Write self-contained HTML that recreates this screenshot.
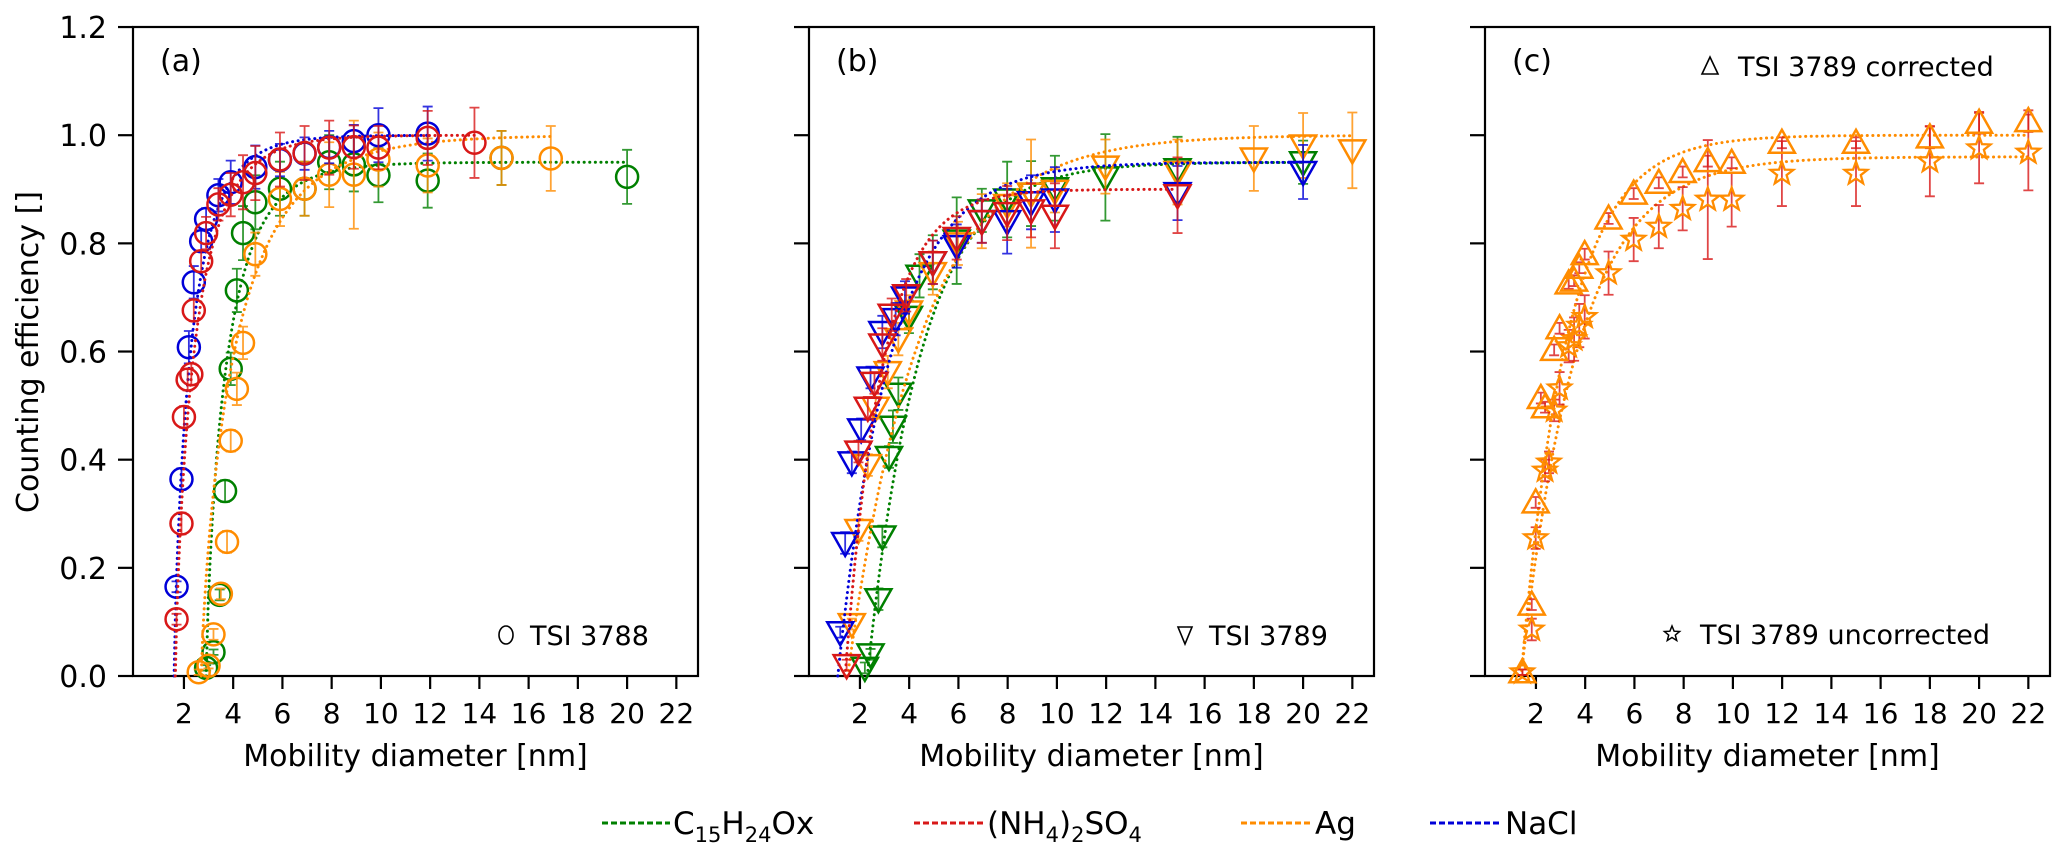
<!DOCTYPE html>
<html><head><meta charset="utf-8">
<style>
html,body{margin:0;padding:0;background:#fff;}
svg{display:block;font-family:"DejaVu Sans","Liberation Sans",sans-serif;}
</style></head>
<body>
<svg id="chart" xmlns="http://www.w3.org/2000/svg" width="2067" height="855" viewBox="0 0 2067 855">
<rect width="2067" height="855" fill="#fff"/>
<g id="axes"></g>
<g id="data"></g>
<g id="annot"></g>
</svg>
<script>
// ---------- data ----------
const xTicks=[2,4,6,8,10,12,14,16,18,20,22];
const yTicks=[0,0.2,0.4,0.6,0.8,1.0,1.2];
const yTickLabels=["0.0","0.2","0.4","0.6","0.8","1.0","1.2"];
const panelLabels=["(a)","(b)","(c)"];

// panel a (TSI 3788)
const aNaClX=[1.7,1.9,2.2,2.4,2.7,2.9,3.4,3.9,4.9,5.9,6.9,7.9,8.9,9.9,11.9];
const aNaClY=[0.165,0.364,0.608,0.728,0.804,0.845,0.889,0.913,0.941,0.954,0.966,0.978,0.989,1.0,1.003];
const aNaClE=[0.01,0.02,0.03,0.03,0.02,0.02,0.03,0.04,0.04,0.03,0.03,0.03,0.03,0.05,0.05];
const aAmsX=[1.7,1.9,2.0,2.15,2.3,2.4,2.7,2.9,3.4,3.9,4.4,4.9,5.9,6.9,7.9,8.9,9.9,11.9,13.8];
const aAmsY=[0.105,0.282,0.479,0.548,0.558,0.676,0.767,0.819,0.872,0.89,0.913,0.93,0.955,0.967,0.977,0.978,0.977,0.995,0.986];
const aAmsE=[0.01,0.02,0.02,0.02,0.02,0.02,0.02,0.03,0.03,0.04,0.05,0.05,0.05,0.05,0.05,0.04,0.04,0.05,0.065];
const aSoaX=[2.9,3.2,3.45,3.67,3.9,4.15,4.4,4.9,5.9,6.9,7.9,8.9,9.9,11.9,14.9,20];
const aSoaY=[0.015,0.044,0.15,0.342,0.568,0.713,0.819,0.876,0.901,0.901,0.95,0.946,0.926,0.916,0.958,0.923];
const aSoaE=[0.005,0.005,0.01,0.02,0.03,0.04,0.05,0.05,0.05,0.05,0.05,0.05,0.05,0.05,0.05,0.05];
const aAgX=[2.6,3.0,3.2,3.5,3.75,3.9,4.15,4.4,4.9,5.9,6.9,7.9,8.9,9.9,11.9,14.9,16.9];
const aAgY=[0.007,0.019,0.077,0.152,0.248,0.435,0.531,0.616,0.78,0.882,0.901,0.927,0.927,0.955,0.944,0.958,0.957];
const aAgE=[0.005,0.005,0.01,0.01,0.02,0.02,0.03,0.03,0.04,0.05,0.05,0.06,0.1,0.05,0.05,0.05,0.06];

// panel b (TSI 3789)
const bNaClX=[1.2,1.4,1.67,2.05,2.43,2.91,3.45,3.83,4.96,5.93,6.95,7.98,8.95,9.92,14.9,20];
const bNaClY=[0.081,0.246,0.395,0.456,0.552,0.636,0.66,0.70,0.765,0.795,0.841,0.841,0.876,0.881,0.893,0.932];
const bNaClE=[0.01,0.02,0.02,0.02,0.02,0.03,0.03,0.03,0.04,0.04,0.04,0.06,0.05,0.06,0.05,0.05];
const bAmsX=[1.46,1.94,2.32,2.59,2.91,3.29,3.88,4.96,5.93,6.95,7.98,8.95,9.92,14.9];
const bAmsY=[0.02,0.415,0.496,0.542,0.613,0.668,0.704,0.765,0.81,0.841,0.856,0.861,0.851,0.889];
const bAmsE=[0.01,0.02,0.02,0.02,0.03,0.03,0.03,0.04,0.04,0.04,0.05,0.05,0.06,0.07];
const bSoaX=[2.2,2.43,2.75,2.91,3.18,3.34,3.56,3.99,4.42,4.96,5.93,6.95,7.98,8.95,9.92,11.97,14.9,20];
const bSoaY=[0.015,0.04,0.142,0.258,0.405,0.461,0.522,0.664,0.74,0.765,0.805,0.861,0.881,0.892,0.902,0.922,0.937,0.95];
const bSoaE=[0.01,0.01,0.02,0.02,0.02,0.03,0.03,0.03,0.04,0.05,0.08,0.04,0.07,0.06,0.06,0.08,0.06,0.04];
const bAgX=[1.67,1.94,2.32,2.64,3.13,3.56,3.99,4.96,5.98,6.95,7.98,8.95,9.92,11.97,14.9,18,20,22];
const bAgY=[0.096,0.27,0.39,0.496,0.562,0.623,0.674,0.745,0.8,0.841,0.871,0.892,0.897,0.942,0.932,0.957,0.981,0.972];
const bAgE=[0.01,0.02,0.02,0.02,0.03,0.03,0.03,0.04,0.04,0.05,0.04,0.1,0.04,0.05,0.06,0.06,0.06,0.07];

// panel c (TSI 3789 Ag corrected / uncorrected)
const cCorX=[1.45,1.83,1.99,2.2,2.37,2.74,2.96,3.33,3.55,3.76,3.98,4.95,5.97,6.99,7.96,8.98,9.95,11.99,15,18,20,22];
const cCorY=[0.007,0.132,0.321,0.514,0.497,0.603,0.643,0.726,0.731,0.755,0.78,0.846,0.892,0.912,0.932,0.952,0.949,0.986,0.986,0.996,1.023,1.026];
const cCorE=[0.005,0.01,0.01,0.01,0.01,0.01,0.01,0.01,0.01,0.01,0.01,0.01,0.01,0.01,0.01,0.01,0.01,0.01,0.01,0.02,0.02,0.02];
const cUncX=[1.45,1.83,1.99,2.37,2.53,2.74,2.96,3.33,3.55,3.76,3.98,4.95,5.97,6.99,7.96,8.98,9.95,11.99,15,18,20,22];
const cUncY=[0.007,0.086,0.255,0.38,0.395,0.491,0.532,0.61,0.623,0.648,0.664,0.745,0.807,0.831,0.864,0.881,0.881,0.929,0.929,0.952,0.976,0.968];
const cUncE=[0.005,0.02,0.02,0.02,0.02,0.02,0.03,0.03,0.04,0.04,0.04,0.04,0.04,0.04,0.04,0.11,0.05,0.06,0.06,0.065,0.065,0.07];

// fit parameters: plateau, cutoff diameter, scale, shape exponent
const fitPlateau=[1.0,1.0,0.95,1.0, 0.95,0.9,0.95,1.0, 1.0,0.96];
const fitD0=[1.6,1.65,2.9,2.7, 1.1,1.4,2.3,1.5, 1.4,1.4];
const fitScale=[0.75,0.85,0.9,1.5, 2.2,1.5,2.2,3.0, 1.9,2.3];
const fitK=[0.8,0.8,0.8,0.8, 1,1,1,1, 1,1];

{
const panelLeft=[133,809,1485];
const panelW=565, topY=27, bottomY=676;
const NS="http://www.w3.org/2000/svg";
const COL={green:"#008000",red:"#d81818",orange:"#ff8c00",blue:"#0000d8"};
function xs(p,d){return panelLeft[p]+1.7+d*24.62;}
function ys(v){return bottomY-v*540.8;}
function mk(tag,attrs,parent){const e=document.createElementNS(NS,tag);for(const k in attrs)e.setAttribute(k,attrs[k]);parent.appendChild(e);return e;}
const axes=document.getElementById('axes'),dataG=document.getElementById('data'),ann=document.getElementById('annot');

for(let p=0;p<3;p++){
  const L=panelLeft[p];
  const fr=mk('rect',{x:L,y:topY,width:panelW,height:bottomY-topY,fill:'none',stroke:'#000','stroke-width':2.2},axes);
  
  
  for(let i=0;i<yTicks.length;i++){
    const y=ys(yTicks[i]);
    const t=mk('line',{x1:L-15,x2:L,y1:y,y2:y,stroke:'#000','stroke-width':2.2},axes);
    
    
    if(p===0){
      const tl=mk('text',{x:107,y:y+11,'text-anchor':'end','font-size':30},axes);
      tl.textContent=yTickLabels[i];
      
      
    }
  }
  for(let i=0;i<xTicks.length;i++){
    const x=xs(p,xTicks[i]);
    const t=mk('line',{x1:x,x2:x,y1:bottomY,y2:bottomY+13,stroke:'#000','stroke-width':2.2},axes);
    
    
    const tl=mk('text',{x:x,y:723,'text-anchor':'middle','font-size':28},axes);
    tl.textContent=xTicks[i];
    
    
  }
  const xl=mk('text',{x:L+panelW/2,y:766,'text-anchor':'middle','font-size':30},axes);
  xl.textContent='Mobility diameter [nm]';
  
  
  const pl=mk('text',{x:L+27,y:71,'font-size':30},ann);
  pl.textContent=panelLabels[p];
  
  
}
const yl=mk('text',{x:0,y:0,'text-anchor':'middle','font-size':30,transform:'translate(38,352) rotate(-90)'},axes);
yl.textContent='Counting efficiency []';



function marker(kind,x,y,color,parent){
  let e;
  if(kind==='circle'){e=mk('circle',{cx:x,cy:y,r:11,fill:'none',stroke:color,'stroke-width':2.5},parent);}
  else if(kind==='tdown'){e=mk('polygon',{points:`${x-13},${y-10} ${x+13},${y-10} ${x},${y+13}`,fill:'none',stroke:color,'stroke-width':2.5},parent);}
  else if(kind==='tup'){e=mk('polygon',{points:`${x-13},${y+10} ${x+13},${y+10} ${x},${y-13}`,fill:'none',stroke:color,'stroke-width':2.5},parent);}
  else {let pts=[];for(let k=0;k<10;k++){const r=k%2?5:12;const a=-Math.PI/2+k*Math.PI/5;pts.push((x+r*Math.cos(a)).toFixed(1)+','+(y+r*Math.sin(a)).toFixed(1));}
    e=mk('polygon',{points:pts.join(' '),fill:'none',stroke:color,'stroke-width':2.3},parent);}
  return e;
}
function series(p,X,Y,E,color,ecolor,kind,name,fi){
  const g=mk('g',{},dataG);
  
  
  const P=fitPlateau[fi],D0=fitD0[fi],S=fitScale[fi],K=fitK[fi];
  const xmax=Math.max(...X);let d='';
  for(let k=0;k<=200;k++){const dd=D0+(xmax-D0)*k/200;const v=P*(1-Math.exp(-Math.pow((dd-D0)/S,K)));d+=(k?'L':'M')+xs(p,dd).toFixed(1)+','+ys(v).toFixed(1);}
  const fl=mk('path',{d:d,fill:'none',stroke:color,'stroke-width':3,'stroke-dasharray':'0.1 5.5','stroke-linecap':'round'},g);
  
  
  for(let i=0;i<X.length;i++){
    const x=xs(p,X[i]),y1=ys(Y[i]-E[i]),y2=ys(Y[i]+E[i]);
    const eb=mk('path',{d:`M${x},${y1}V${y2}M${x-5},${y1}H${x+5}M${x-5},${y2}H${x+5}`,stroke:ecolor,'stroke-width':1.8,'stroke-opacity':0.8,fill:'none'},g);
    
    
  }
  for(let i=0;i<X.length;i++){
    const m=marker(kind,xs(p,X[i]),ys(Y[i]),color,g);
    
    
  }
}
series(0,aSoaX,aSoaY,aSoaE,COL.green,COL.green,'circle','a-c15h24ox',2);
series(0,aAgX,aAgY,aAgE,COL.orange,COL.orange,'circle','a-ag',3);
series(0,aNaClX,aNaClY,aNaClE,COL.blue,COL.blue,'circle','a-nacl',0);
series(0,aAmsX,aAmsY,aAmsE,COL.red,COL.red,'circle','a-nh4-2so4',1);
series(1,bSoaX,bSoaY,bSoaE,COL.green,COL.green,'tdown','b-c15h24ox',6);
series(1,bAgX,bAgY,bAgE,COL.orange,COL.orange,'tdown','b-ag',7);
series(1,bNaClX,bNaClY,bNaClE,COL.blue,COL.blue,'tdown','b-nacl',4);
series(1,bAmsX,bAmsY,bAmsE,COL.red,COL.red,'tdown','b-nh4-2so4',5);
series(2,cUncX,cUncY,cUncE,COL.orange,COL.red,'star','c-ag-uncorrected',9);
series(2,cCorX,cCorY,cCorE,COL.orange,COL.red,'tup','c-ag-corrected',8);

function instLegend(kind,mx,my,tx,text,name){
  const g=mk('g',{},ann);
  
  
  if(kind==='circle') mk('ellipse',{cx:mx,cy:my,rx:7,ry:9,fill:'none',stroke:'#000','stroke-width':1.6},g);
  else if(kind==='tdown') mk('polygon',{points:`${mx-7},${my-8} ${mx+7},${my-8} ${mx},${my+9}`,fill:'none',stroke:'#000','stroke-width':1.6},g);
  else if(kind==='tup') mk('polygon',{points:`${mx-8},${my+8} ${mx+8},${my+8} ${mx},${my-9}`,fill:'none',stroke:'#000','stroke-width':1.6},g);
  else {let pts=[];for(let k=0;k<10;k++){const r=k%2?3.5:8;const a=-Math.PI/2+k*Math.PI/5;pts.push((mx+r*Math.cos(a)).toFixed(1)+','+(my+r*Math.sin(a)).toFixed(1));}
    mk('polygon',{points:pts.join(' '),fill:'none',stroke:'#000','stroke-width':1.5},g);}
  const t=mk('text',{x:tx,y:my+10,'font-size':27},g);
  t.textContent=text;
}
instLegend('circle',506,635,530,'TSI 3788','legend-tsi-3788');
instLegend('tdown',1185,635,1209,'TSI 3789','legend-tsi-3789');
instLegend('tup',1710,66,1738,'TSI 3789 corrected','legend-tsi-3789-corrected');
instLegend('star',1672,634,1700,'TSI 3789 uncorrected','legend-tsi-3789-uncorrected');
}
</script>
<svg style="position:absolute;left:0;top:0" width="2067" height="855" xmlns="http://www.w3.org/2000/svg">
 <g>
  <line x1="602" x2="670" y1="823" y2="823" stroke="#008000" stroke-width="3" stroke-dasharray="6 3"/>
  <text x="673" y="834" font-size="31" font-family="DejaVu Sans, sans-serif">C<tspan font-size="21" dy="8">15</tspan><tspan dy="-8">H</tspan><tspan font-size="21" dy="8">24</tspan><tspan dy="-8">Ox</tspan></text>
 </g>
 <g>
  <line x1="914" x2="985" y1="823" y2="823" stroke="#d81818" stroke-width="3" stroke-dasharray="6 3"/>
  <text x="987" y="834" font-size="31" font-family="DejaVu Sans, sans-serif">(NH<tspan font-size="21" dy="8">4</tspan><tspan dy="-8">)</tspan><tspan font-size="21" dy="8">2</tspan><tspan dy="-8">SO</tspan><tspan font-size="21" dy="8">4</tspan></text>
 </g>
 <g>
  <line x1="1241" x2="1311" y1="823" y2="823" stroke="#ff8c00" stroke-width="3" stroke-dasharray="6 3"/>
  <text x="1315" y="834" font-size="31" font-family="DejaVu Sans, sans-serif">Ag</text>
 </g>
 <g>
  <line x1="1430" x2="1502" y1="823" y2="823" stroke="#0000d8" stroke-width="3" stroke-dasharray="6 3"/>
  <text x="1505" y="834" font-size="31" font-family="DejaVu Sans, sans-serif">NaCl</text>
 </g>
</svg>
</body></html>
